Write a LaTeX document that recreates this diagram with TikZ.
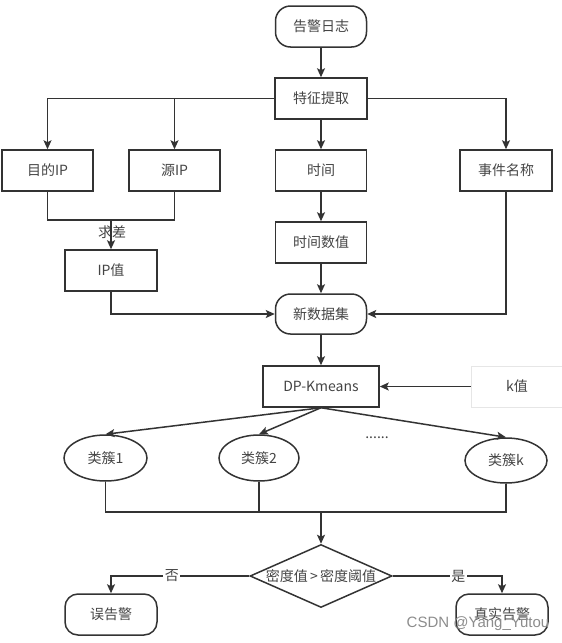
\documentclass[tikz,border=0pt]{standalone}
\usepackage{fontspec}
\setmainfont{Noto Sans CJK SC}
\newfontfamily\wmfont{Liberation Sans}
\usetikzlibrary{shapes.geometric,arrows.meta}
\definecolor{ln}{HTML}{333333}
\definecolor{tx}{HTML}{444444}
\definecolor{wm}{HTML}{8C8C8C}
\definecolor{faint}{HTML}{E6E6E6}
\begin{document}
\begin{tikzpicture}[x=1pt,y=-1pt,
  every node/.style={font=\fontsize{14}{16}\selectfont, text=tx},
  box/.style={draw=ln, line width=1.5pt, minimum width=91pt, minimum height=41pt, inner sep=0pt},
  rbox/.style={box, rounded corners=15pt},
  ell/.style={draw=ln, line width=1.5pt, ellipse, inner sep=0pt, minimum height=46pt},
  conn/.style={draw=ln, line width=1.5pt},
  arr/.style={conn, -{Stealth[length=9pt,width=8pt,inset=2pt]}},
  lbl/.style={fill=white, inner sep=1.5pt},
]
\useasboundingbox (0,0) rectangle (562,643);

% nodes
\node[rbox] (log) at (321,26.5) {告警日志};
\node[box, minimum width=92pt] (feat) at (321,98.5) {特征提取};
\node[box] (dip) at (47.5,170.5) {目的IP};
\node[box] (sip) at (174.5,170.5) {源IP};
\node[box] (time) at (321,170.5) {时间};
\node[box, minimum width=92pt] (evt) at (506,170.5) {事件名称};
\node[box, minimum width=92pt] (ipv) at (111,270.5) {IP值};
\node[box] (tnum) at (321,242.5) {时间数值};
\node[rbox, minimum height=40pt] (newds) at (321,314) {新数据集};
\node[box, minimum width=116pt] (dpk) at (321,386.5) {DP-Kmeans};
\node[box, draw=faint, line width=0.8pt, minimum width=92pt] (kval) at (517,386.5) {k值};
\node[ell, minimum width=83pt] (c1) at (105.5,458) {类簇1};
\node[ell, minimum width=80pt] (c2) at (259,458) {类簇2};
\node[ell, minimum width=82pt, minimum height=45pt] (ck) at (506,460.5) {类簇k};
\node (dots) at (377,438) {......};
\node[diamond, draw=ln, line width=1.5pt, inner sep=0pt, minimum width=142pt, minimum height=63pt] (dia) at (321,576) {};
\node (diatext) at (dia.center) {密度值\,>\,密度阈值};
\node[rbox, minimum width=92pt, rounded corners=13pt] (fa) at (111,614.5) {误告警};
\node[rbox, minimum width=92pt, rounded corners=13pt] (ta) at (502,614.5) {真实告警};

% connectors
\draw[arr] (log) -- (feat);
\draw[arr] (feat.west) -| (dip.north);
\draw[arr] (feat.west) -| (sip.north);
\draw[arr] (feat.east) -| (evt.north);
\draw[arr] (feat) -- (time);
\draw[arr] (time) -- (tnum);
\draw[arr] (tnum) -- (newds);

\coordinate (jip) at (111,220);
\node (qc) at (112,232) {求差};
\draw[conn] (dip.south) |- (jip) -| (sip.south);
\draw[arr] (jip) -- (ipv.north);

\draw[arr] (ipv.south) |- (newds.west);
\draw[arr] (evt.south) |- (newds.east);
\draw[arr] (newds) -- (dpk);
\draw[arr] (kval.west) -- (dpk.east);

\draw[arr] (dpk.south) -- (c1.north);
\draw[arr] (dpk.south) -- (c2.north);
\draw[arr] (dpk.south) -- (ck.north);

\coordinate (jc) at (321,512);
\draw[conn] (c1.south) |- (jc) -| (ck.south);
\draw[conn] (c2.south) -- (c2.south |- jc);
\draw[arr] (jc) -- (dia.north);

\draw[arr] (dia.west) -| node[lbl, pos=0.28] {否} (fa.north);
\draw[arr] (dia.east) -| node[lbl, pos=0.30] {是} (ta.north);

\node[font=\wmfont\fontsize{15}{17}\selectfont, text=wm] (wmk) at (478,624) {CSDN @Yang\_Yutou};
\end{tikzpicture}
\end{document}
